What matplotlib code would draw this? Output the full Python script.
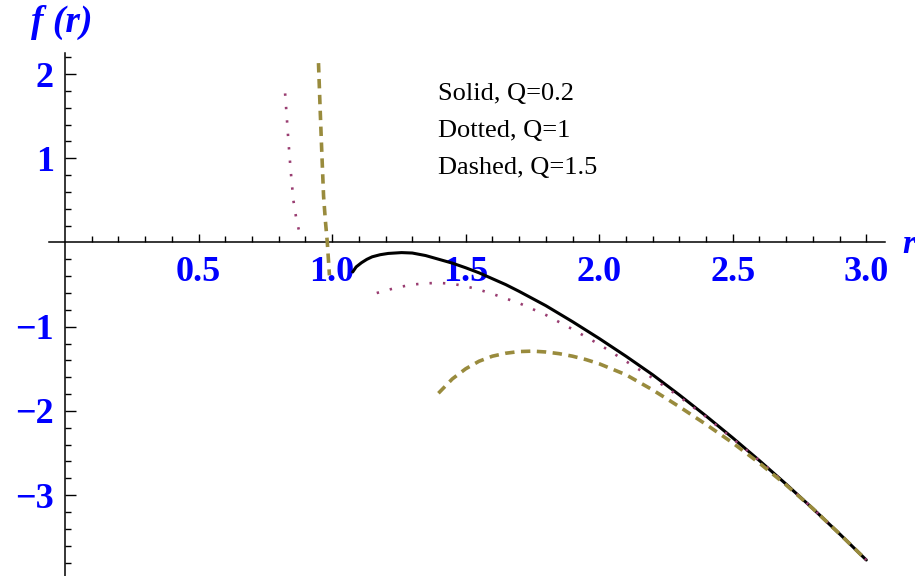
import matplotlib
matplotlib.use("Agg")
import matplotlib.pyplot as plt
from matplotlib.ticker import FixedLocator

# values
solid_r = [1.077, 1.09, 1.11, 1.13, 1.15, 1.18, 1.21, 1.26, 1.30, 1.35, 1.40, 1.45, 1.50,
           1.55, 1.60, 1.65, 1.70, 1.80, 1.90, 2.00, 2.10, 2.20, 2.30, 2.40, 2.50,
           2.60, 2.70, 2.80, 2.90, 3.00]
solid_f = [-0.35, -0.29, -0.24, -0.20, -0.17, -0.145, -0.13, -0.12, -0.125, -0.155, -0.20, -0.245, -0.30,
           -0.36, -0.43, -0.50, -0.58, -0.75, -0.94, -1.14, -1.35, -1.57, -1.81, -2.06, -2.32,
           -2.59, -2.87, -3.16, -3.46, -3.77]

dotted_hi_r = [0.824, 0.830, 0.836, 0.845, 0.855, 0.867, 0.880]
dotted_hi_f = [1.77, 1.50, 1.22, 0.85, 0.50, 0.26, 0.09]
dotted_lo_r = [1.167, 1.20, 1.25, 1.30, 1.35, 1.40, 1.45, 1.50, 1.55, 1.60, 1.70, 1.80,
               1.90, 2.00, 2.10, 2.20, 2.30, 2.40, 2.50, 2.60, 2.70, 2.80, 2.90, 3.00]
dotted_lo_f = [-0.60, -0.57, -0.53, -0.50, -0.485, -0.48, -0.49, -0.52, -0.56, -0.61, -0.72, -0.86,
               -1.03, -1.21, -1.41, -1.61, -1.83, -2.07, -2.33, -2.59, -2.87, -3.16, -3.46, -3.77]

dashed_hi_r = [0.949, 0.955, 0.961, 0.968, 0.975, 0.982, 0.990]
dashed_hi_f = [2.13, 1.60, 1.10, 0.55, 0.25, 0.00, -0.39]
dashed_lo_r = [1.398, 1.45, 1.50, 1.55, 1.60, 1.65, 1.70, 1.75, 1.80, 1.85, 1.90, 1.95,
               2.00, 2.10, 2.20, 2.30, 2.40, 2.50, 2.60, 2.70, 2.80, 2.90, 3.00]
dashed_lo_f = [-1.79, -1.62, -1.50, -1.41, -1.35, -1.315, -1.295, -1.29, -1.30, -1.32, -1.35, -1.39,
               -1.44, -1.57, -1.75, -1.95, -2.16, -2.38, -2.62, -2.88, -3.16, -3.46, -3.77]

x_major = [0.5, 1.0, 1.5, 2.0, 2.5, 3.0]
x_labels = ["0.5", "1.0", "1.5", "2.0", "2.5", "3.0"]
y_major = [-3, -2, -1, 1, 2]
y_labels = ["\u22123", "\u22122", "\u22121", "1", "2"]
legend_lines = ["Solid, Q=0.2", "Dotted, Q=1", "Dashed, Q=1.5"]

col_dot = (0.6, 0.24, 0.4428)
col_dash = (0.6, 0.547, 0.24)
blue = (0.0, 0.0, 1.0)

W, H = 915, 576
fig = plt.figure(figsize=(W / 100, H / 100), dpi=100)
ax = fig.add_axes([49 / W, 0.0, 836 / W, (576 - 53) / H])
ax.set_xlim(-0.06, 3.07)
ax.set_ylim(-3.96, 2.25)

for s in ["top", "right"]:
    ax.spines[s].set_visible(False)
ax.spines["left"].set_position(("data", 0))
ax.spines["bottom"].set_position(("data", 0))
ax.spines["left"].set_linewidth(1.1)
ax.spines["bottom"].set_linewidth(1.1)

ax.plot(solid_r, solid_f, color="black", lw=2.2, zorder=3, solid_capstyle="round")
ax.plot(dotted_hi_r, dotted_hi_f, color=col_dot, lw=1.9, ls=(0, (0.9, 4.2)), zorder=3)
ax.plot(dotted_lo_r, dotted_lo_f, color=col_dot, lw=1.9, ls=(0, (0.9, 4.2)), zorder=3)
ax.plot(dashed_hi_r, dashed_hi_f, color=col_dash, lw=2.6, ls=(0, (2.6, 1.8)), zorder=3)
ax.plot(dashed_lo_r, dashed_lo_f, color=col_dash, lw=2.6, ls=(0, (2.6, 1.8)), zorder=3)

# ticks, Mathematica style
ax.xaxis.set_major_locator(FixedLocator(x_major))
ax.xaxis.set_minor_locator(FixedLocator([i / 10 for i in range(1, 31) if i % 5]))
ax.yaxis.set_major_locator(FixedLocator(y_major))
ax.yaxis.set_minor_locator(FixedLocator([i / 5 for i in range(-19, 12) if i % 5 and i != 0]))
ax.set_xticklabels(x_labels)
ax.set_yticklabels(y_labels)

ax.tick_params(axis="x", which="major", direction="in", length=6, width=1.0, pad=10)
ax.tick_params(axis="x", which="minor", direction="in", length=4, width=1.0)
ax.tick_params(axis="y", which="major", direction="in", length=8, width=1.0, pad=8)
ax.tick_params(axis="y", which="minor", direction="in", length=4.5, width=1.0)

for lab in ax.get_xticklabels() + ax.get_yticklabels():
    lab.set_fontfamily("Liberation Serif")
    lab.set_fontweight("bold")
    lab.set_fontsize(26)
    lab.set_color(blue)

for i, t in enumerate(legend_lines):
    ax.text(1.397, 1.69 - 0.44 * i, t, fontsize=19, family="Liberation Serif",
            color="black", va="baseline", ha="left")

fig.text(62 / W, 1 - 22 / H, "f (r)", fontsize=27, family="Liberation Serif",
         style="italic", weight="bold", color=blue, ha="center", va="center")
fig.text(902 / W, 1 - 253 / H, "r", fontsize=24, family="Liberation Serif",
         style="italic", weight="bold", color=blue, ha="left", va="baseline")

fig.savefig("out.png", dpi=100)
